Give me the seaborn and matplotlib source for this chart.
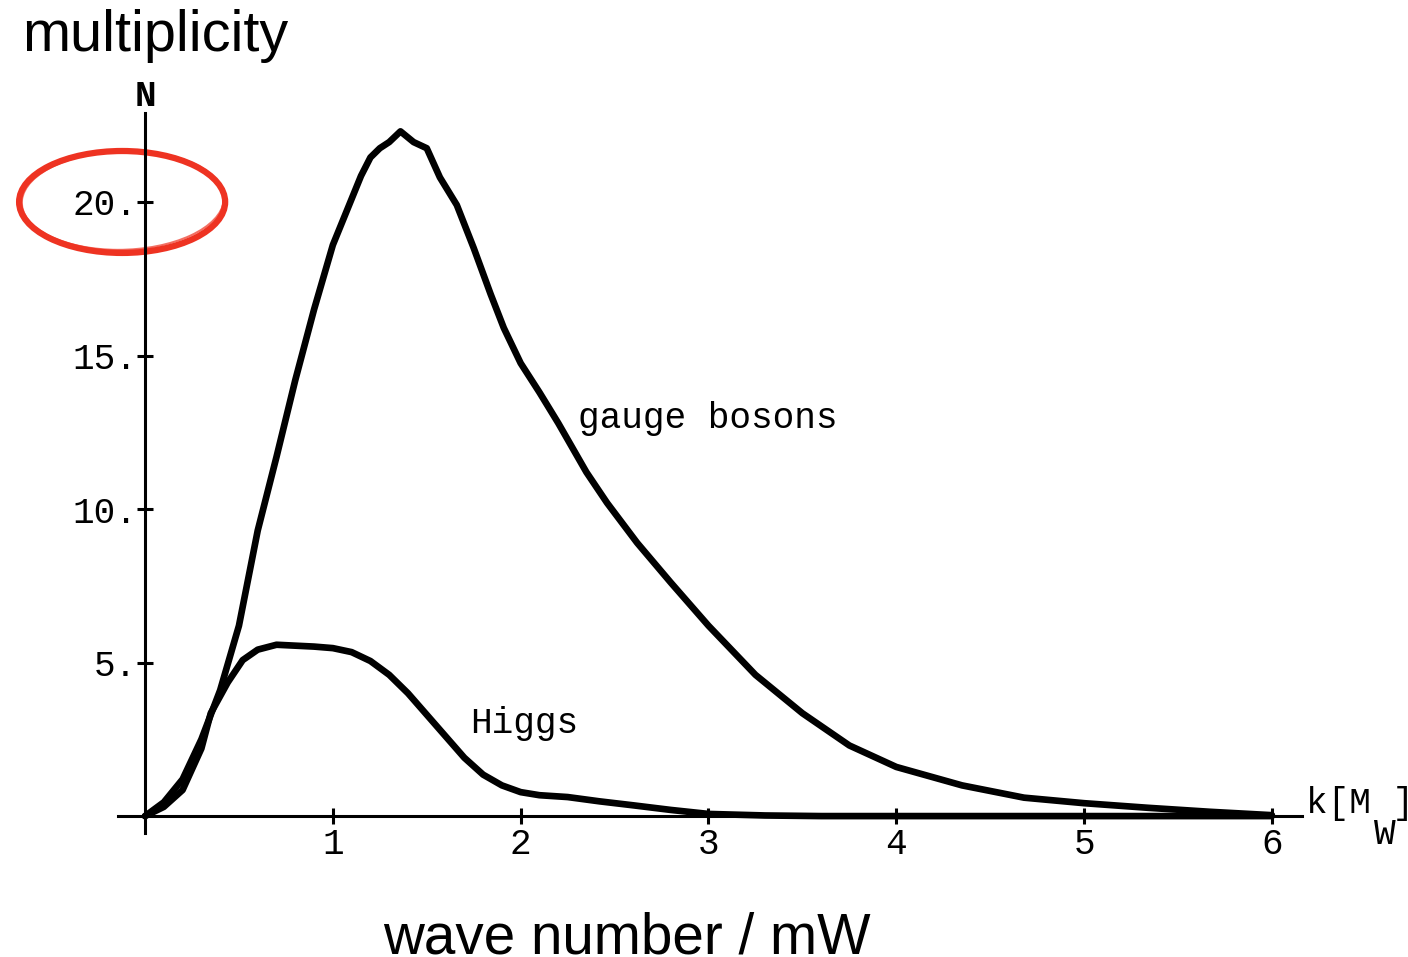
import matplotlib
matplotlib.use("Agg")
import matplotlib.pyplot as plt
import seaborn as sns
import pandas as pd
from matplotlib.patches import Ellipse

# ---- data ----
gauge_k = [0, 0.1, 0.2, 0.3, 0.4, 0.5, 0.6, 0.7, 0.8, 0.9, 1.0, 1.1, 1.15,
           1.2, 1.25, 1.3, 1.36, 1.43, 1.5, 1.57, 1.66, 1.75, 1.84, 1.91, 2.0,
           2.1, 2.2, 2.35, 2.46, 2.62, 2.8, 3.0, 3.25, 3.5, 3.75, 4.0, 4.35,
           4.68, 5.0, 5.34, 5.67, 6.0]
gauge_n = [0, 0.45, 1.2, 2.5, 4.1, 6.2, 9.3, 11.7, 14.2, 16.5, 18.6, 20.1,
           20.85, 21.45, 21.75, 21.95, 22.3, 21.95, 21.75, 20.8, 19.9, 18.5,
           17.0, 15.9, 14.75, 13.8, 12.8, 11.2, 10.2, 8.9, 7.6, 6.2, 4.6,
           3.35, 2.3, 1.6, 1.0, 0.6, 0.42, 0.27, 0.14, 0.03]

higgs_k = [0, 0.1, 0.2, 0.3, 0.35, 0.44, 0.52, 0.6, 0.7, 0.8, 0.9, 1.0, 1.1,
           1.2, 1.3, 1.4, 1.5, 1.6, 1.7, 1.8, 1.9, 2.0, 2.1, 2.25, 2.42, 2.6,
           2.8, 3.0, 3.3, 3.6, 4.0, 5.0, 6.0]
higgs_n = [0, 0.3, 0.85, 2.2, 3.35, 4.35, 5.08, 5.42, 5.58, 5.55, 5.52, 5.47,
           5.34, 5.05, 4.6, 4.0, 3.3, 2.6, 1.9, 1.35, 1.0, 0.78, 0.68, 0.62,
           0.48, 0.35, 0.2, 0.07, 0.02, 0, 0, 0, 0]

x_ticks = [1, 2, 3, 4, 5, 6]
x_tick_labels = ["1", "2", "3", "4", "5", "6"]
y_ticks = [5, 10, 15, 20]
y_tick_labels = ["5.", "10.", "15.", "20."]

title_text = "multiplicity"
xlabel_text = "wave number / mW"
series_labels = ["gauge bosons", "Higgs"]

# ---- plotting ----
sns.set_style("white")
plt.rcParams["font.family"] = ["Liberation Mono", "DejaVu Sans Mono"]

fig = plt.figure(figsize=(14.08, 9.57), dpi=100)
ax = fig.add_axes([0.0838, 0.1296, 0.8409, 0.7524])

df_g = pd.DataFrame({"k": gauge_k, "N": gauge_n})
df_h = pd.DataFrame({"k": higgs_k, "N": higgs_n})
line_kw = dict(color="black", lw=4.8, estimator=None, sort=False)
sns.lineplot(data=df_g, x="k", y="N", ax=ax, **line_kw)
sns.lineplot(data=df_h, x="k", y="N", ax=ax, **line_kw)
for ln in ax.lines:
    ln.set_solid_joinstyle("round")
    ln.set_solid_capstyle("round")

ax.set_xlim(-0.144, 6.16)
ax.set_ylim(-0.55, 22.9)

for s in ["top", "right"]:
    ax.spines[s].set_visible(False)
ax.spines["left"].set_position(("data", 0))
ax.spines["bottom"].set_position(("data", 0))
for s in ["left", "bottom"]:
    ax.spines[s].set_linewidth(2.2)
    ax.spines[s].set_color("black")

ax.set_xticks(x_ticks)
ax.set_xticklabels(x_tick_labels)
ax.set_yticks(y_ticks)
ax.set_yticklabels(y_tick_labels)
ax.tick_params(axis="both", direction="inout", length=11, width=2.2,
               color="black", labelcolor="black", labelsize=26,
               left=True, bottom=True)
ax.tick_params(axis="x", pad=2)
ax.tick_params(axis="y", pad=0)
for lbl in ax.get_xticklabels():
    lbl.set_x(lbl.get_position()[0])
ax.set_xlabel("")
ax.set_ylabel("")
ax.grid(False)

# axis names in the plot style
ax.text(0, 23.45, "N", ha="center", va="center", fontsize=26, color="black",
        fontweight="bold")
ax.text(6.18, 0.42, "k[M ]", ha="left", va="center", fontsize=26,
        color="black")
ax.text(6.6, -0.6, "W", ha="center", va="center", fontsize=26,
        color="black")

# curve labels
ax.text(2.306, 12.96, series_labels[0], ha="left", va="center", fontsize=26,
        color="black")
ax.text(1.73, 3.0, series_labels[1], ha="left", va="center", fontsize=26,
        color="black")

# red hand-drawn circle around the "20." tick label
red = "#ee3322"
ax.add_patch(Ellipse((-0.122, 20.0), 1.097, 3.32, fill=False, ec=red,
                     lw=4.5, clip_on=False))
ax.add_patch(Ellipse((-0.118, 20.05), 1.075, 3.22, angle=-1, fill=False,
                     ec=red, lw=1.5, alpha=0.7, clip_on=False))

# outer annotations (sans serif)
fig.text(22 / 1408, 1 - 51 / 957, title_text, ha="left", va="baseline",
         fontsize=41.5, family=["Liberation Sans", "DejaVu Sans"],
         color="black")
fig.text(383 / 1408, 1 - 953 / 957, xlabel_text, ha="left", va="baseline",
         fontsize=40.8, family=["Liberation Sans", "DejaVu Sans"],
         color="black")

fig.savefig("out.png", dpi=100)
